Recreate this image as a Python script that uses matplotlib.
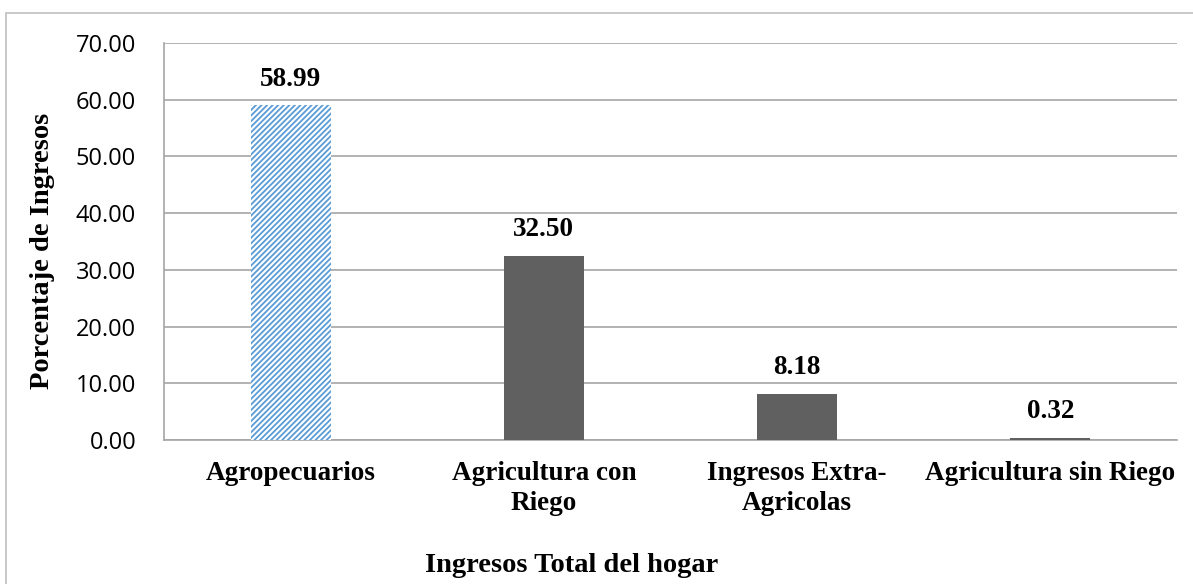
import matplotlib.pyplot as plt
from matplotlib.patches import Rectangle

# Datos
categorias = ["Agropecuarios", "Agricultura con\nRiego", "Ingresos Extra-\nAgricolas", "Agricultura sin Riego"]
porcentajes = [58.99, 32.50, 8.18, 0.32]
ticks_y = [0, 10, 20, 30, 40, 50, 60, 70]

plt.rcParams['hatch.linewidth'] = 1.3

fig = plt.figure(figsize=(11.93, 5.84), dpi=100)
ax = fig.add_axes([164 / 1193, 1 - 440 / 584, (1177 - 164) / 1193, (440 - 43) / 584])

# Borde exterior del grafico
fig.patches.append(Rectangle((6 / 1193, -0.1), 1.2, 1 - 13 / 584 + 0.1, transform=fig.transFigure,
                             fill=False, edgecolor='#BFBFBF', linewidth=1.2))

x = range(len(categorias))
barras = ax.bar(x, porcentajes, width=0.316, color='#606060', zorder=3)
barras[0].set_facecolor('white')
barras[0].set_hatch('//////')
barras[0].set_edgecolor('#5B9BD5')
barras[0].set_linewidth(0)

# Etiquetas de valor sobre cada barra
for i, v in enumerate(porcentajes):
    ax.annotate(f"{v:.2f}", (i, v), xytext=(0, 10), textcoords='offset points',
                ha='center', va='bottom', fontsize=19.5, fontweight='bold',
                family='Liberation Serif')

ax.set_ylim(0, 70)
ax.set_xlim(-0.5, 3.5)
ax.set_yticks(ticks_y)
ax.set_yticklabels([f"{t:.2f}" for t in ticks_y], fontsize=17, family='Open Sans')
ax.set_xticks(list(x))
ax.set_xticklabels(categorias, fontsize=19.5, fontweight='bold', family='Liberation Serif',
                   linespacing=1.25)
ax.tick_params(axis='both', length=0)
ax.tick_params(axis='x', pad=15)
ax.tick_params(axis='y', pad=20)

ax.grid(axis='y', color='#A6A6A6', linewidth=1.2, zorder=0)
for lado in ['top', 'right']:
    ax.spines[lado].set_visible(False)
for lado in ['left', 'bottom']:
    ax.spines[lado].set_color('#A6A6A6')
    ax.spines[lado].set_linewidth(1.2)

fig.text(43 / 1193, 1 - 251 / 584, "Porcentaje de Ingresos", rotation=90, ha='center', va='center',
         fontsize=20.5, fontweight='bold', family='Liberation Serif')
fig.text(572 / 1193, 1 - 566 / 584, "Ingresos Total del hogar", ha='center', va='center',
         fontsize=20.5, fontweight='bold', family='Liberation Serif')

fig.savefig("out.png", dpi=100)
